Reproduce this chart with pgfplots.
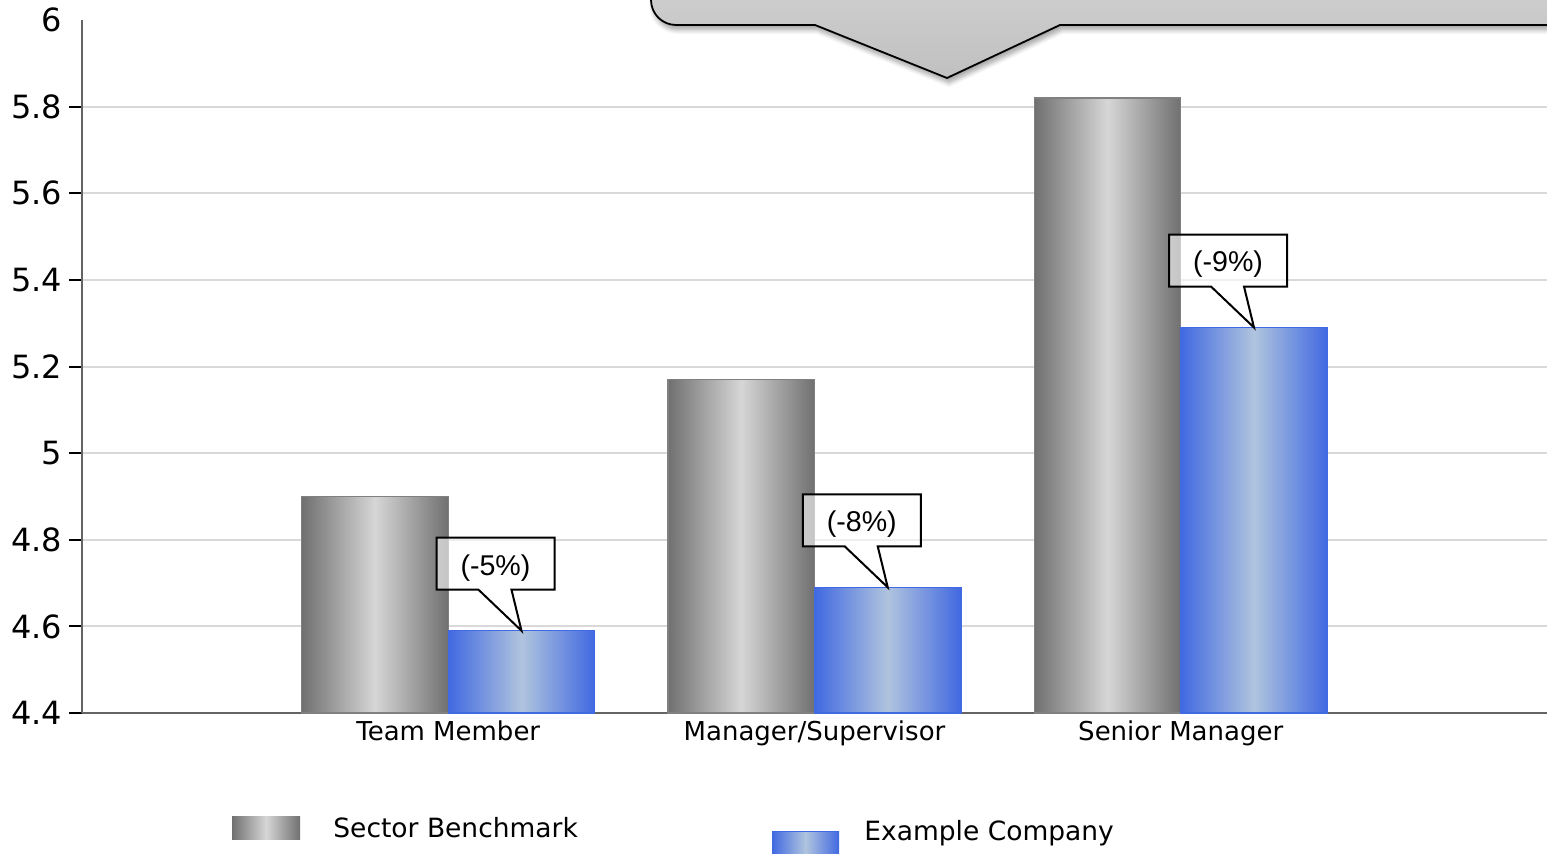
\documentclass[border=0pt]{standalone}
\usepackage{pgfplots}
\pgfplotsset{compat=1.18}
\usepackage{fontspec}
\setmainfont{DejaVu Sans}
\newfontfamily\arialfont{Liberation Sans}
\usetikzlibrary{shadows.blur}

\definecolor{gdark}{RGB}{112,112,112}
\definecolor{glight}{RGB}{214,214,214}
\definecolor{bdark}{RGB}{65,105,225}
\definecolor{blight}{RGB}{176,196,222}
\definecolor{gridc}{RGB}{217,217,217}
\definecolor{axc}{RGB}{100,100,100}
\definecolor{callouttop}{RGB}{212,212,212}
\definecolor{calloutbot}{RGB}{192,192,192}

\newcommand{\callout}[3]{%
  \draw[line width=1pt, fill=white, fill opacity=0.6, line join=miter]
    (axis cs:#1,#2) -- ++(-21.5pt,20.5pt) -- ++(-21pt,0pt) -- ++(0pt,26pt)
    -- ++(59pt,0pt) -- ++(0pt,-26pt) -- ++(-21.5pt,0pt) -- cycle;
  \node[font=\arialfont\fontsize{14.3}{16}\selectfont, inner sep=0pt]
    at ([shift={(-13pt,31.5pt)}]axis cs:#1,#2) {#3};
}

\pgfplotsset{
  benchbar/.style={ybar, bar width=0.4, bar shift=-0.2, draw=gray, line width=0.6pt,
    left color=gdark, right color=gdark, middle color=glight},
  compbar/.style={ybar, bar width=0.4, bar shift=0.2, draw=bdark, line width=0.6pt,
    left color=bdark, right color=bdark, middle color=blight},
}

\begin{document}
\begin{tikzpicture}[x=0.5pt,y=0.5pt]
\path[use as bounding box] (0,0) rectangle (1547,853);
\clip (0,0) rectangle (1547,853);

% top callout (partly outside the picture)
\draw[line width=0.9pt, top color=callouttop, bottom color=calloutbot,
      blur shadow={shadow xshift=1pt, shadow yshift=-2.5pt, shadow blur steps=6, shadow opacity=35}]
  (651,900) -- (651,853) arc[start angle=180, end angle=270, radius=12.5pt]
  -- (815,828) -- (947,775) -- (1060,828) -- (1600,828) -- (1600,900) -- cycle;

\begin{axis}[
  at={(41pt,70pt)}, anchor=south west,
  scale only axis, width=732.5pt, height=346.5pt,
  xmin=-1, xmax=3, ymin=4.4, ymax=6,
  axis lines=left,
  axis line style={-, draw=axc, line width=1.2pt},
  ytick={4.4,4.6,4.8,5,5.2,5.4,5.6,5.8},
  extra y ticks={6},
  extra y tick style={grid=none, tick style={draw=none}},
  tick align=outside,
  major tick length=6.5pt,
  ytick style={black, line width=1pt},
  xtick={0,1,2},
  xticklabels={Team Member, Manager/Supervisor, Senior Manager},
  xtick style={draw=none},
  xticklabel style={font=\fontsize{13}{15}\selectfont, yshift=6pt},
  yticklabel style={font=\fontsize{16}{18}\selectfont, /pgf/number format/assume math mode=true},
  ymajorgrids,
  grid style={gridc, line width=1pt},
]
% Sector Benchmark
\addplot[benchbar] coordinates {(0,4.90)};
\addplot[benchbar] coordinates {(1,5.17)};
\addplot[benchbar] coordinates {(2,5.82)};
% Example Company
\addplot[compbar] coordinates {(0,4.59)};
\addplot[compbar] coordinates {(1,4.69)};
\addplot[compbar] coordinates {(2,5.29)};

\callout{0.2}{4.59}{(-5\%)}
\callout{1.2}{4.69}{(-8\%)}
\callout{2.2}{5.29}{(-9\%)}
\end{axis}

% legend
\shade[left color=gdark, right color=gdark, middle color=glight] (232,14) rectangle (300,37);
\node[anchor=west, inner sep=0pt, font=\fontsize{13.25}{15}\selectfont] at (333,25) {Sector Benchmark};
\shade[left color=bdark, right color=bdark, middle color=blight] (772,0) rectangle (839,22);
\draw[bdark, line width=0.8pt] (772,21.5) -- (839,21.5);
\node[anchor=west, inner sep=0pt, font=\fontsize{13.25}{15}\selectfont] at (864,20) {Example Company};
\end{tikzpicture}
\end{document}
